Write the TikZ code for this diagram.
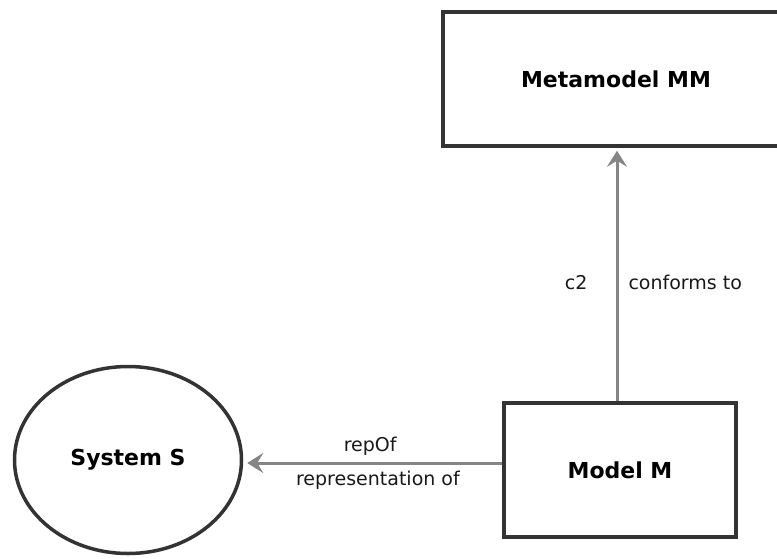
\documentclass[tikz,border=0pt]{standalone}
\usepackage{fontspec}
\setmainfont{DejaVu Sans}
\usetikzlibrary{arrows.meta,shapes.geometric}

\tikzset{
  box/.style={draw=black!80, line width=3.5pt, rectangle, inner sep=0pt,
              fill=white, font=\fontsize{22}{24}\selectfont\bfseries},
  oval/.style={draw=black!80, line width=3.5pt, ellipse, inner sep=0pt,
               fill=white, font=\fontsize{22}{24}\selectfont\bfseries},
  conn/.style={draw=black!48, line width=3pt,
               -{Stealth[length=16pt,width=20pt,inset=6pt]}},
  lbl/.style={font=\fontsize{19}{21}\selectfont, text=black!90, inner sep=2pt}
}

\begin{document}
\begin{tikzpicture}[x=1pt,y=-1pt]
  \useasboundingbox (0,0) rectangle (777,558);
  \fill[white] (0,0) rectangle (777,558);
  \clip (0,0) rectangle (777,558);

  % model elements
  \node[box, minimum width=346pt, minimum height=134pt] (mm) at (616,79) {Metamodel MM};
  \node[box, minimum width=232pt, minimum height=134pt] (model) at (620,470) {Model M};
  \node[oval, minimum width=227pt, minimum height=187pt] (sys) at (128,460) {System S};

  % relations
  \draw[conn, shorten >=3pt] ([xshift=-3pt]model.north) -- ([xshift=-3pt]model.north |- mm.south)
    node[lbl, pos=0.47, left=26pt] {c2}
    node[lbl, pos=0.47, right=8pt] {conforms to};
  \draw[conn, shorten >=4pt] (model.west |- 0,463) -- (sys.east |- 0,463)
    node[lbl, pos=0.51, above=4pt] {repOf}
    node[lbl, pos=0.48, below=5pt] {representation of};
\end{tikzpicture}
\end{document}
